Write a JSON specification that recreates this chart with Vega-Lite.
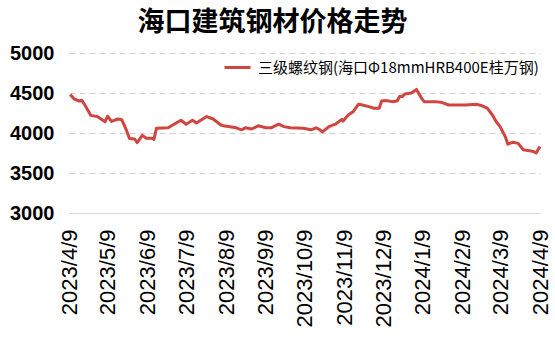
{
  "$schema": "https://vega.github.io/schema/vega-lite/v6.json",
  "width": 471,
  "height": 160,
  "autosize": {"type": "none"},
  "padding": {"left": 69, "top": 53, "right": 15, "bottom": 143},
  "background": "white",
  "title": {"text": "海口建筑钢材价格走势", "font": "Noto Sans CJK SC", "fontSize": 27, "fontWeight": "bold", "color": "#000000", "anchor": "middle", "dx": -32, "offset": 6},
  "data": {"values": [
    {"date": "2023-04-10", "price": 4480},
    {"date": "2023-04-13", "price": 4425},
    {"date": "2023-04-17", "price": 4400},
    {"date": "2023-04-19", "price": 4410},
    {"date": "2023-04-22", "price": 4330},
    {"date": "2023-04-26", "price": 4220},
    {"date": "2023-05-01", "price": 4205},
    {"date": "2023-05-07", "price": 4140},
    {"date": "2023-05-09", "price": 4210},
    {"date": "2023-05-12", "price": 4145},
    {"date": "2023-05-17", "price": 4175},
    {"date": "2023-05-20", "price": 4165},
    {"date": "2023-05-23", "price": 4060},
    {"date": "2023-05-26", "price": 3930},
    {"date": "2023-05-30", "price": 3925},
    {"date": "2023-06-01", "price": 3880},
    {"date": "2023-06-05", "price": 3970},
    {"date": "2023-06-08", "price": 3935},
    {"date": "2023-06-12", "price": 3935},
    {"date": "2023-06-14", "price": 3920},
    {"date": "2023-06-16", "price": 4060},
    {"date": "2023-06-25", "price": 4065},
    {"date": "2023-07-05", "price": 4160},
    {"date": "2023-07-09", "price": 4110},
    {"date": "2023-07-14", "price": 4160},
    {"date": "2023-07-17", "price": 4125},
    {"date": "2023-07-25", "price": 4205},
    {"date": "2023-07-30", "price": 4175},
    {"date": "2023-08-05", "price": 4100},
    {"date": "2023-08-07", "price": 4090},
    {"date": "2023-08-17", "price": 4065},
    {"date": "2023-08-21", "price": 4040},
    {"date": "2023-08-24", "price": 4065},
    {"date": "2023-08-29", "price": 4050},
    {"date": "2023-09-03", "price": 4090},
    {"date": "2023-09-09", "price": 4065},
    {"date": "2023-09-13", "price": 4065},
    {"date": "2023-09-19", "price": 4110},
    {"date": "2023-09-23", "price": 4080},
    {"date": "2023-09-28", "price": 4065},
    {"date": "2023-10-08", "price": 4060},
    {"date": "2023-10-14", "price": 4040},
    {"date": "2023-10-18", "price": 4065},
    {"date": "2023-10-20", "price": 4050},
    {"date": "2023-10-23", "price": 4015},
    {"date": "2023-10-28", "price": 4080},
    {"date": "2023-11-02", "price": 4110},
    {"date": "2023-11-07", "price": 4170},
    {"date": "2023-11-08", "price": 4150},
    {"date": "2023-11-12", "price": 4225},
    {"date": "2023-11-16", "price": 4270},
    {"date": "2023-11-20", "price": 4360},
    {"date": "2023-11-23", "price": 4350},
    {"date": "2023-11-28", "price": 4330},
    {"date": "2023-12-02", "price": 4310},
    {"date": "2023-12-06", "price": 4310},
    {"date": "2023-12-08", "price": 4400},
    {"date": "2023-12-11", "price": 4405},
    {"date": "2023-12-16", "price": 4392},
    {"date": "2023-12-20", "price": 4400},
    {"date": "2023-12-22", "price": 4460},
    {"date": "2023-12-24", "price": 4455},
    {"date": "2023-12-26", "price": 4488},
    {"date": "2023-12-31", "price": 4500},
    {"date": "2024-01-04", "price": 4545},
    {"date": "2024-01-08", "price": 4433},
    {"date": "2024-01-10", "price": 4392},
    {"date": "2024-01-19", "price": 4392},
    {"date": "2024-01-24", "price": 4380},
    {"date": "2024-01-29", "price": 4350},
    {"date": "2024-02-11", "price": 4350},
    {"date": "2024-02-20", "price": 4358},
    {"date": "2024-02-24", "price": 4340},
    {"date": "2024-02-28", "price": 4310},
    {"date": "2024-03-03", "price": 4225},
    {"date": "2024-03-06", "price": 4140},
    {"date": "2024-03-09", "price": 4080},
    {"date": "2024-03-13", "price": 3955},
    {"date": "2024-03-15", "price": 3860},
    {"date": "2024-03-19", "price": 3885},
    {"date": "2024-03-23", "price": 3870},
    {"date": "2024-03-27", "price": 3790},
    {"date": "2024-04-02", "price": 3775},
    {"date": "2024-04-04", "price": 3767},
    {"date": "2024-04-06", "price": 3750},
    {"date": "2024-04-09", "price": 3830}
  ]},
  "mark": {"type": "line", "strokeWidth": 3, "strokeJoin": "round"},
  "encoding": {
    "x": {
      "field": "date", "type": "temporal",
      "scale": {"type": "utc", "domain": [{"year": 2023, "month": 4, "date": 9, "utc": true}, {"year": 2024, "month": 4, "date": 9, "utc": true}]},
      "axis": {
        "title": null,
        "values": [
          {"year": 2023, "month": 4, "date": 9, "utc": true},
          {"year": 2023, "month": 5, "date": 9, "utc": true},
          {"year": 2023, "month": 6, "date": 9, "utc": true},
          {"year": 2023, "month": 7, "date": 9, "utc": true},
          {"year": 2023, "month": 8, "date": 9, "utc": true},
          {"year": 2023, "month": 9, "date": 9, "utc": true},
          {"year": 2023, "month": 10, "date": 9, "utc": true},
          {"year": 2023, "month": 11, "date": 9, "utc": true},
          {"year": 2023, "month": 12, "date": 9, "utc": true},
          {"year": 2024, "month": 1, "date": 9, "utc": true},
          {"year": 2024, "month": 2, "date": 9, "utc": true},
          {"year": 2024, "month": 3, "date": 9, "utc": true},
          {"year": 2024, "month": 4, "date": 9, "utc": true}
        ],
        "format": "%Y/%-m/%-d",
        "labelAngle": -90,
        "labelFont": "Liberation Sans",
        "labelFontSize": 22,
        "labelColor": "#000000",
        "labelPadding": 16,
        "labelOverlap": false,
        "labelFlush": false,
        "ticks": false,
        "grid": false,
        "domain": true,
        "domainColor": "#d9d9d9",
        "domainWidth": 1
      }
    },
    "y": {
      "field": "price", "type": "quantitative",
      "scale": {"domain": [3000, 5000], "nice": false},
      "axis": {
        "title": null,
        "values": [3000, 3500, 4000, 4500, 5000],
        "format": "d",
        "labelFont": "Liberation Sans",
        "labelFontSize": 20,
        "labelFontWeight": "bold",
        "labelColor": "#000000",
        "labelPadding": 15,
        "ticks": false,
        "domain": false,
        "grid": true,
        "gridColor": "#d0d0d0",
        "gridDash": [6, 4],
        "gridWidth": 1
      }
    },
    "color": {
      "datum": "三级螺纹钢(海口Φ18mmHRB400E桂万钢)",
      "type": "nominal",
      "scale": {"range": ["#d0453f"]},
      "legend": {
        "title": null,
        "orient": "none",
        "legendX": 154,
        "legendY": 0,
        "symbolType": "stroke",
        "symbolSize": 676,
        "symbolStrokeWidth": 3,
        "labelFont": "Noto Sans CJK SC",
        "labelFontSize": 15,
        "labelColor": "#000000",
        "labelOffset": 6,
        "labelLimit": 400
      }
    }
  },
  "config": {"view": {"stroke": null}}
}
